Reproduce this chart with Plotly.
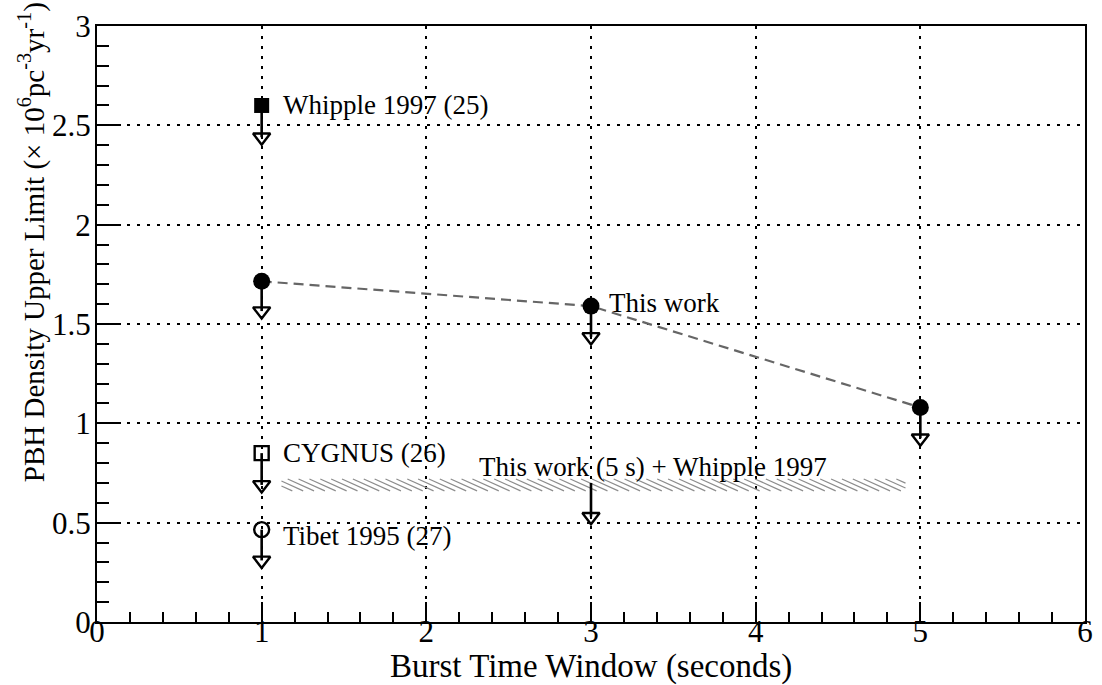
import numpy as np
import plotly.graph_objects as go

# Upper limits on the PBH burst rate density, in units of 10^6 pc^-3 yr^-1
whipple_x = [1]
whipple_y = [2.6]
whipple_lim = [2.44]

this_work_x = [1, 3, 5]
this_work_y = [1.715, 1.59, 1.08]
this_work_lim = [1.565, 1.435, 0.925]

cygnus_x = [1]
cygnus_y = [0.85]
cygnus_lim = [0.69]

tibet_x = [1]
tibet_y = [0.465]
tibet_lim = [0.31]

# Combined limit: this work (5 s window) + Whipple 1997
combined_band_x = [1.12, 4.91]
combined_band_y = [0.66, 0.72]
combined_arrow_x = [3]
combined_arrow_y = [0.70]
combined_lim = [0.53]

x_tick_vals = [0, 1, 2, 3, 4, 5, 6]
y_tick_vals = [0, 0.5, 1, 1.5, 2, 2.5, 3]
y_tick_text = ["0", "0.5", "1", "1.5", "2", "2.5", "3"]

FONT = "Liberation Serif"
BLACK = "#000000"


def stems(xs, tops, bottoms):
    """Vertical arrow shafts from each point down to its limit marker."""
    sx, sy = [], []
    for x, t, b in zip(xs, tops, bottoms):
        sx += [x, x, None]
        sy += [t, b, None]
    return sx, sy


def hatch(x_range, y_range, step=0.066, slant=0.16):
    """Back-slash hatching clipped to a rectangular band."""
    x0, x1 = x_range
    y_lo, y_hi = y_range
    hx, hy = [], []
    s = x0 - slant
    while s < x1:
        a, b = s, s + slant
        ca, cb = max(a, x0), min(b, x1)
        if cb > ca:
            ya = y_hi - (ca - a) / slant * (y_hi - y_lo)
            yb = y_hi - (cb - a) / slant * (y_hi - y_lo)
            hx += [ca, cb, None]
            hy += [ya, yb, None]
        s += step
    return hx, hy


fig = go.Figure()

# hatched combined-limit band
hx, hy = hatch(combined_band_x, combined_band_y)
fig.add_trace(go.Scatter(x=hx, y=hy, mode="lines",
                         line=dict(color="#8c8c8c", width=1.2),
                         hoverinfo="skip", showlegend=False))

# dashed trend through this work's limits
fig.add_trace(go.Scatter(x=this_work_x, y=this_work_y, mode="lines",
                         line=dict(color="#666666", width=2.2, dash="10px,6px"),
                         hoverinfo="skip", showlegend=False))

# arrow shafts
all_x = whipple_x + this_work_x + cygnus_x + tibet_x + combined_arrow_x
all_top = whipple_y + this_work_y + cygnus_y + tibet_y + combined_arrow_y
all_lim = whipple_lim + this_work_lim + cygnus_lim + tibet_lim + combined_lim
sx, sy = stems(all_x, all_top, all_lim)
fig.add_trace(go.Scatter(x=sx, y=sy, mode="lines",
                         line=dict(color=BLACK, width=2.6),
                         hoverinfo="skip", showlegend=False))

# arrow heads
fig.add_trace(go.Scatter(x=all_x, y=all_lim, mode="markers",
                         marker=dict(symbol="triangle-down-open", size=15,
                                     color=BLACK, line=dict(color=BLACK, width=2.4)),
                         showlegend=False))

# measurement markers
fig.add_trace(go.Scatter(x=whipple_x, y=whipple_y, mode="markers",
                         marker=dict(symbol="square", size=15, color=BLACK),
                         showlegend=False))
fig.add_trace(go.Scatter(x=this_work_x, y=this_work_y, mode="markers",
                         marker=dict(symbol="circle", size=17, color=BLACK),
                         showlegend=False))
fig.add_trace(go.Scatter(x=cygnus_x, y=cygnus_y, mode="markers",
                         marker=dict(symbol="square-open", size=14, color=BLACK,
                                     line=dict(color=BLACK, width=2.4)),
                         showlegend=False))
fig.add_trace(go.Scatter(x=tibet_x, y=tibet_y, mode="markers",
                         marker=dict(symbol="circle-open", size=15, color=BLACK,
                                     line=dict(color=BLACK, width=2.4)),
                         showlegend=False))

label_font = dict(family=FONT, size=27, color=BLACK)
labels = [
    ("Whipple 1997 (25)", 1.12, 2.6),
    ("This work", 3.1, 1.605),
    ("CYGNUS (26)", 1.12, 0.85),
    ("Tibet 1995 (27)", 1.12, 0.435),
    ("This work (5 s) + Whipple 1997", 2.31, 0.78),
]
for text, x, y in labels:
    fig.add_annotation(x=x, y=y, text=text, showarrow=False,
                       xanchor="left", yanchor="middle", font=label_font)

# axis titles
fig.add_annotation(xref="paper", yref="paper", x=0.5, y=-0.075,
                   text="Burst Time Window (seconds)", showarrow=False,
                   xanchor="center", yanchor="middle",
                   font=dict(family=FONT, size=33, color=BLACK))
fig.add_annotation(xref="paper", yref="paper", x=-0.066, y=0.637,
                   text="PBH Density Upper Limit (× 10<sup>6</sup>pc<sup>-3</sup>yr<sup>-1</sup>)",
                   textangle=-90, showarrow=False,
                   xanchor="center", yanchor="middle",
                   font=dict(family=FONT, size=29, color=BLACK))

grid_style = dict(showgrid=True, gridcolor=BLACK, gridwidth=2, griddash="3px,7px",
                  showline=True, linecolor=BLACK, linewidth=2, mirror=True,
                  zeroline=False, ticks="inside", tickcolor=BLACK, tickwidth=2,
                  tickfont=dict(family=FONT, size=31, color=BLACK))

fig.update_xaxes(range=[0, 6], tickvals=x_tick_vals, ticklen=20,
                 ticklabelstandoff=-19,
                 minor=dict(ticks="inside", dtick=0.2, ticklen=10,
                            tickcolor=BLACK, tickwidth=2, showgrid=False),
                 **grid_style)
fig.update_yaxes(range=[0, 3], tickvals=y_tick_vals, ticktext=y_tick_text, ticklen=24,
                 ticklabelstandoff=-2,
                 minor=dict(ticks="inside", dtick=0.1, ticklen=12,
                            tickcolor=BLACK, tickwidth=2, showgrid=False),
                 **grid_style)

fig.update_layout(width=1102, height=685,
                  margin=dict(l=97, r=9, t=22, b=63),
                  paper_bgcolor="white", plot_bgcolor="white",
                  font=dict(family=FONT, color=BLACK))

fig.write_html("out.html")
